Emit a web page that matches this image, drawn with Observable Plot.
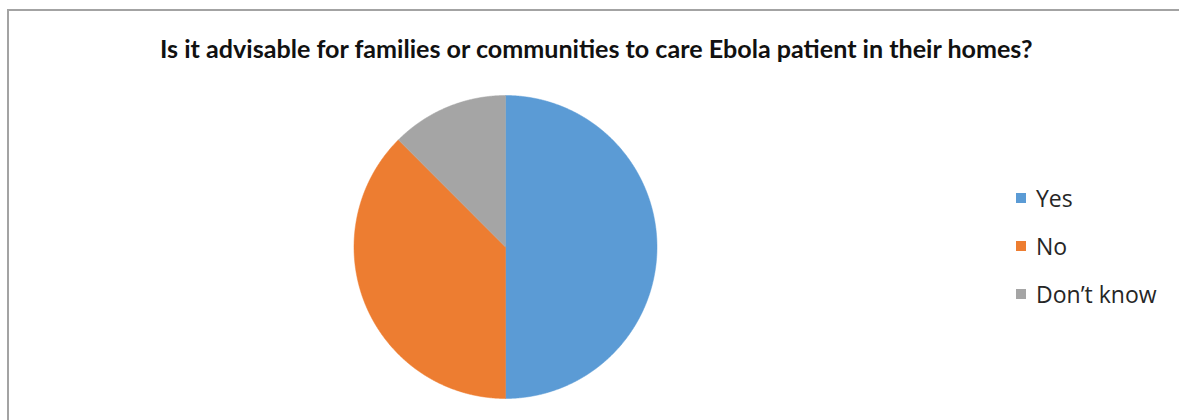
<!DOCTYPE html>
<html>
<head>
<meta charset="utf-8">
<script src="https://cdn.jsdelivr.net/npm/d3@7"></script>
<script src="https://cdn.jsdelivr.net/npm/@observablehq/plot@0.6"></script>
<style>
  html, body { margin: 0; padding: 0; background: #fff; }
  #wrap { position: relative; width: 1179px; height: 420px; overflow: hidden; font-family: Lato, "Open Sans", sans-serif; }
  #frame { position: absolute; left: 7px; top: 9px; width: 1200px; height: 430px; border-left: 2px solid #a3a3a3; border-top: 2px solid #a3a3a3; box-sizing: border-box; }
  #chart { position: absolute; left: 0; top: 0; }
  #title { position: absolute; left: 0; top: 33px; white-space: nowrap; font-weight: bold; color: #111; font-size: 20px; }
  #legend { position: absolute; left: 1016px; top: 0; font-family: "Open Sans", Lato, sans-serif; font-size: 19px; color: #262626; }
  .item { position: absolute; left: 0; display: flex; align-items: center; height: 28px; white-space: nowrap; }
  .sw { width: 10px; height: 10px; margin-right: 10px; flex: none; }
</style>
</head>
<body>
<div id="wrap">
  <div id="frame"></div>
  <div id="chart"></div>
  <div id="title"></div>
  <div id="legend"></div>
</div>
<script>
const title = "Is it advisable for families or communities to care Ebola patient in their homes?";
const categories = ["Yes", "No", "Don\u2019t know"];
const values = [50, 37.5, 12.5];
const colors = ["#5B9BD5", "#ED7D31", "#A5A5A5"];

// Build slice outlines from the values (angles from 12 o'clock, clockwise)
const total = d3.sum(values);
const pts = [];
let start = 0;
categories.forEach((c, i) => {
  const end = start + values[i] / total * 2 * Math.PI;
  pts.push({cat: c, a: start, r: 0});
  const n = Math.max(2, Math.ceil((end - start) / (Math.PI / 720)));
  for (let k = 0; k <= n; k++) {
    const a = start + (end - start) * k / n;
    pts.push({cat: c, a, r: 1});
  }
  pts.push({cat: c, a: end, r: 0});
  start = end;
});
pts.forEach(p => { p.x = p.r * Math.sin(p.a); p.y = p.r * Math.cos(p.a); });

const cx = 505, cy = 246.5, R = 151.5;
const chart = Plot.plot({
  width: 1179,
  height: 420,
  margin: 0,
  x: {domain: [-1, 1], range: [cx - R, cx + R], axis: null},
  y: {domain: [-1, 1], range: [cy + R, cy - R], axis: null},
  color: {domain: categories, range: colors},
  marks: [
    Plot.line(pts, {x: "x", y: "y", z: "cat", fill: "cat", stroke: "cat", strokeWidth: 0.5, curve: "linear"})
  ]
});
document.getElementById("chart").appendChild(chart);

// Title, fitted to the reference width
const t = document.getElementById("title");
t.textContent = title;
const targetW = 873, left = 160;
let w = t.getBoundingClientRect().width;
t.style.fontSize = (20 * targetW / w) + "px";
t.style.left = left + "px";

// Legend
const lg = document.getElementById("legend");
const labels = [];
categories.forEach((c, i) => {
  const d = document.createElement("div");
  d.className = "item";
  d.style.top = (184 + i * 48) + "px";
  const s = document.createElement("span");
  s.className = "sw";
  s.style.background = colors[i];
  const l = document.createElement("span");
  l.textContent = c;
  d.appendChild(s); d.appendChild(l);
  lg.appendChild(d);
  labels.push(l);
});
// fit "Don't know" width to the reference (~126px)
const lw = labels[2].getBoundingClientRect().width;
lg.style.fontSize = Math.min(23, 19 * 126 / lw) + "px";
</script>
</body>
</html>
